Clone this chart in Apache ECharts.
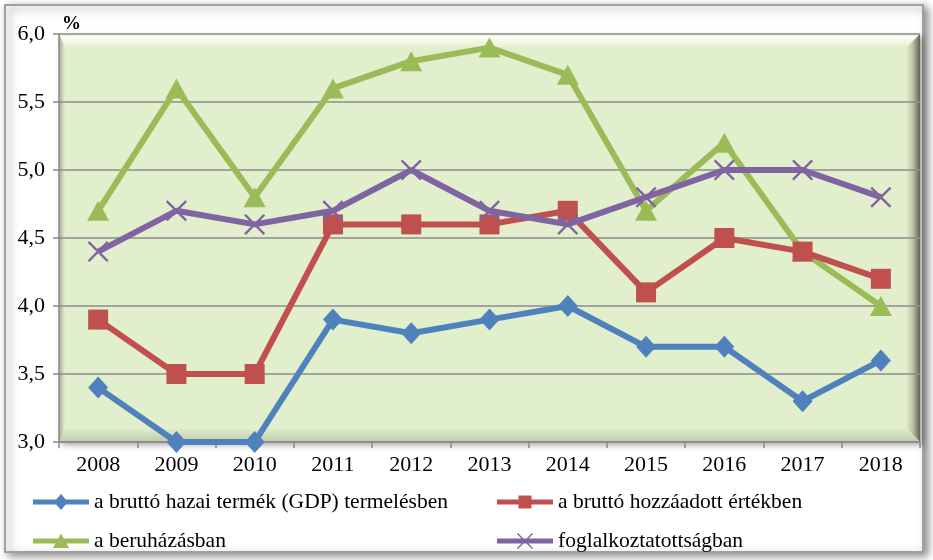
<!DOCTYPE html>
<html><head><meta charset="utf-8">
<script src="https://cdn.jsdelivr.net/npm/echarts@6/dist/echarts.min.js"></script>
<style>html,body{margin:0;padding:0;background:#fff}#c{width:933px;height:560px}</style>
</head><body><div id="c"></div>
<script>
const years = ['2008','2009','2010','2011','2012','2013','2014','2015','2016','2017','2018'];
const gdp = [3.4, 3.0, 3.0, 3.9, 3.8, 3.9, 4.0, 3.7, 3.7, 3.3, 3.6];
const valueAdded = [3.9, 3.5, 3.5, 4.6, 4.6, 4.6, 4.7, 4.1, 4.5, 4.4, 4.2];
const investment = [4.7, 5.6, 4.8, 5.6, 5.8, 5.9, 5.7, 4.7, 5.2, 4.4, 4.0];
const employment = [4.4, 4.7, 4.6, 4.7, 5.0, 4.7, 4.6, 4.8, 5.0, 5.0, 4.8];
const names = ['a bruttó hazai termék (GDP) termelésben','a bruttó hozzáadott értékben','a beruházásban','foglalkoztatottságban'];
const colors = ['#4F81BD','#C0504D','#9BBB59','#8064A2'];

const FONT = '"Liberation Serif", "Times New Roman", serif';
const xSym = 'path://M0,0.8L0.8,0L5,4.2L9.2,0L10,0.8L5.8,5L10,9.2L9.2,10L5,5.8L0.8,10L0,9.2L4.2,5Z';
// legend icons: line bar + marker, in a 56x18 frame
const corners = 'M0,0L0.01,0L0,0.01Z M56,18L55.99,18L56,17.99Z ';
const bar = 'M0,6.5L56,6.5L56,11.5L0,11.5Z ';
const legIcons = [
  'path://' + corners + bar + 'M28,1L35,9L28,17L21,9Z',
  'path://' + corners + bar + 'M21.5,2.5L34.5,2.5L34.5,15.5L21.5,15.5Z',
  'path://' + corners + bar + 'M28,1.5L36,16L20,16Z',
  'path://' + corners + bar + 'M20,2L21,1L28,8L35,1L36,2L29,9L36,16L35,17L28,10L21,17L20,16L27,9Z'
];

const PL = 59, PT = 34, PR = 920, PB = 442;
const BG = '#E2EFCC';
function lg(x1,y1,x2,y2,stops){return {type:'linear',x:x1,y:y1,x2:x2,y2:y2,colorStops:stops.map(s=>({offset:s[0],color:s[1]}))};}

const chart = echarts.init(document.getElementById('c'));
function leg(i, left, top){
  return {data:[{name:names[i], icon:legIcons[i]}], left:left, top:top, padding:0, itemWidth:56, itemHeight:18, itemGap:0,
    textStyle:{fontFamily:FONT, fontSize:21.5, color:'#000'}, selectedMode:false};
}
chart.setOption({
  animation:false,
  backgroundColor:'#fff',
  graphic:[
    {type:'rect', z:-20, shape:{x:5, y:5, width:918, height:547}, style:{fill:'#fff', stroke:'#a0a0a0', lineWidth:2, shadowBlur:8, shadowOffsetX:4, shadowOffsetY:3, shadowColor:'rgba(0,0,0,0.45)'}},
    {type:'rect', z:-15, shape:{x:PL, y:PT, width:PR-PL, height:PB-PT}, style:{fill:BG, shadowBlur:6, shadowOffsetX:3, shadowOffsetY:3, shadowColor:'rgba(0,0,0,0.35)'}},
    {type:'polygon', z:-14, shape:{points:[[PL,PT],[PR,PT],[PR-14,PT+14],[PL+6,PT+14]]}, style:{fill:lg(0,0,0,1,[[0,'#e8f2d6'],[0.25,'#fbfff2'],[1,BG]])}},
    {type:'polygon', z:-14, shape:{points:[[PR,PT],[PR,PB],[PR-14,PB-14],[PR-14,PT+14]]}, style:{fill:lg(0,0,1,0,[[0,BG],[0.5,'#b7c2a3'],[1,'#5f6358']])}},
    {type:'polygon', z:-14, shape:{points:[[PL,PB],[PR,PB],[PR-14,PB-14],[PL+6,PB-14]]}, style:{fill:lg(0,0,0,1,[[0,BG],[1,'#bfcaa9']])}},
    {type:'polygon', z:-14, shape:{points:[[PL,PT],[PL+6,PT+14],[PL+6,PB-14],[PL,PB]]}, style:{fill:lg(0,0,1,0,[[0,'#a7ab9c'],[1,BG]])}},
    {type:'text', left:62, top:15, style:{text:'%', font:'bold 19px '+FONT, fill:'#000'}}
  ],
  grid:{left:PL, right:933-PR, top:PT, bottom:560-PB, show:false},
  legend:[ leg(0, 33, 491), leg(1, 497, 491), leg(2, 33, 530), leg(3, 497, 530) ],
  xAxis:{type:'category', data:years, boundaryGap:true,
    axisLine:{lineStyle:{color:'#8a8a8a', width:1.5}},
    axisTick:{show:true, length:6, interval:0, lineStyle:{color:'#8a8a8a', width:1.5}},
    axisLabel:{fontFamily:FONT, fontSize:22, color:'#000', margin:12}},
  yAxis:{type:'value', min:3, max:6, interval:0.5,
    axisLine:{show:true, lineStyle:{color:'#8a8a8a', width:1.5}},
    axisTick:{show:true, length:6, lineStyle:{color:'#8a8a8a', width:1.5}},
    splitLine:{lineStyle:{color:'#8c8c8c', width:1.5}},
    axisLabel:{fontFamily:FONT, fontSize:22, color:'#000', margin:14,
      formatter:v=>v.toFixed(1).replace('.',',')}},
  series:[
    {name:names[0], type:'line', data:gdp, symbol:'diamond', symbolSize:[20,22], itemStyle:{color:colors[0]}, lineStyle:{width:6, color:colors[0]}, z:4},
    {name:names[1], type:'line', data:valueAdded, symbol:'rect', symbolSize:20, itemStyle:{color:colors[1]}, lineStyle:{width:6, color:colors[1]}, z:3},
    {name:names[2], type:'line', data:investment, symbol:'triangle', symbolSize:[22,20], itemStyle:{color:colors[2]}, lineStyle:{width:6, color:colors[2]}, z:2},
    {name:names[3], type:'line', data:employment, symbol:xSym, symbolSize:21, itemStyle:{color:colors[3]}, lineStyle:{width:6, color:colors[3]}, z:5}
  ]
});
</script></body></html>
